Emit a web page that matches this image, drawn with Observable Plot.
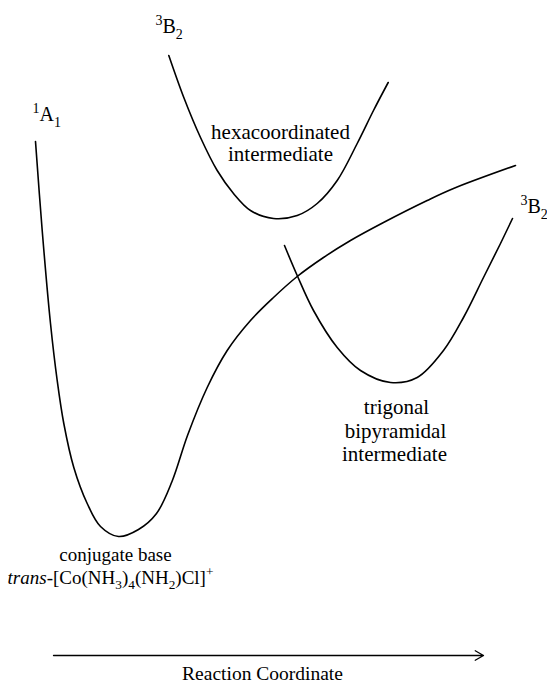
<!DOCTYPE html>
<html><head><meta charset="utf-8">
<script src="https://cdn.jsdelivr.net/npm/d3@7"></script>
<script src="https://cdn.jsdelivr.net/npm/@observablehq/plot@0.6"></script>
<style>
html,body{margin:0;padding:0;background:#fff}
svg text, svg tspan{font-family:"Liberation Serif","Times New Roman",serif !important}
</style>
</head><body><div id="chart"></div>
<script>
// Potential energy curves: [reaction coordinate, energy]
const singletA1 = [[35,551],[41.7,462],[50,369],[56.7,312],[63.3,269],[73.3,225],[86.7,189],[100,166],[118,156],[138,163],[156,179],[171.5,211],[187,257],[206.7,305],[226.7,342],[250,372],[273,395],[296.7,416],[323,435],[350,452],[383,470],[426.7,492],[453,504],[515,527]];
const tripletHexa = [[168.3,637],[183.3,595],[200,555],[216.7,522],[233,499],[250,482],[273,474],[296.7,477],[316.7,489],[336.7,512],[356.7,549],[373,582],[387.7,610]];
const tripletTbp = [[284,447],[296.7,417],[313,382],[336.7,345],[360,322],[390,310],[416.7,315],[443,342],[463,375],[483,415],[500,449],[512,474]];

// Labels (markup: ^{} superscript, _{} subscript, ~{} italic)
const stateLabels = [
  {text: "^{1}A_{1}", x: 32, E: 577.5},
  {text: "^{3}B_{2}", x: 155, E: 665.5},
  {text: "^{3}B_{2}", x: 520, E: 485.5}
];
const regionLabels = [
  {text: "hexacoordinated", x: 280, E: 560.3},
  {text: "intermediate", x: 280, E: 538},
  {text: "trigonal", x: 396, E: 285},
  {text: "bipyramidal", x: 395, E: 261},
  {text: "intermediate", x: 394, E: 238}
];
const speciesLabels = [
  {text: "conjugate base", x: 115, E: 138},
  {text: "~{trans}-[Co(NH_{3})_{4}(NH_{2})Cl]^{+}", x: 110, E: 115}
];
const axisTitle = [{text: "Reaction Coordinate", x: 262, E: 19}];
const axisArrow = [{x1: 53, x2: 483, E: 37}];

const curves = [
  ...singletA1.map(([x, E]) => ({state: "1A1", x, E})),
  ...tripletHexa.map(([x, E]) => ({state: "3B2 hexa", x, E})),
  ...tripletTbp.map(([x, E]) => ({state: "3B2 tbp", x, E}))
];

const serif = "Liberation Serif";
const plot = Plot.plot({
  width: 547, height: 692, margin: 0,
  x: {domain: [0, 547], axis: null},
  y: {domain: [0, 692], axis: null},
  style: {fontFamily: serif, background: "white", color: "black", overflow: "visible"},
  marks: [
    Plot.line(curves, {x: "x", y: "E", z: "state", stroke: "black", strokeWidth: 1.6, curve: "catmull-rom"}),
    Plot.arrow(axisArrow, {x1: "x1", x2: "x2", y1: "E", y2: "E", stroke: "black", strokeWidth: 1.3, headLength: 11, headAngle: 60}),
    Plot.text(stateLabels, {x: "x", y: "E", text: "text", textAnchor: "start", lineAnchor: "middle", fontSize: 20, fontFamily: serif}),
    Plot.text(regionLabels, {x: "x", y: "E", text: "text", lineAnchor: "middle", fontSize: 21, fontFamily: serif}),
    Plot.text(speciesLabels, {x: "x", y: "E", text: "text", lineAnchor: "middle", fontSize: 19, fontFamily: serif}),
    Plot.text(axisTitle, {x: "x", y: "E", text: "text", lineAnchor: "middle", fontSize: 19.5, fontFamily: serif})
  ]
});
document.getElementById("chart").appendChild(plot);

// Turn markup into tspans
const NS = "http://www.w3.org/2000/svg";
plot.querySelectorAll("text").forEach(t => {
  const s = t.textContent;
  if (!/[\^_~]\{/.test(s)) return;
  const F = parseFloat(getComputedStyle(t).fontSize) || 20;
  while (t.firstChild) t.removeChild(t.firstChild);
  const re = /([\^_~])\{([^}]*)\}|([^\^_~]+)/g;
  let m, shift = 0;
  while ((m = re.exec(s))) {
    const sp = document.createElementNS(NS, "tspan");
    let target = 0;
    if (m[1] === "^") { target = -0.4 * F; sp.setAttribute("font-size", 0.7 * F); sp.textContent = m[2]; }
    else if (m[1] === "_") { target = 0.28 * F; sp.setAttribute("font-size", 0.7 * F); sp.textContent = m[2]; }
    else if (m[1] === "~") { sp.setAttribute("font-style", "italic"); sp.textContent = m[2]; }
    else { sp.textContent = m[3]; }
    const dy = target - shift;
    if (dy !== 0) sp.setAttribute("dy", dy);
    shift = target;
    t.appendChild(sp);
  }
});
</script>
</body></html>
